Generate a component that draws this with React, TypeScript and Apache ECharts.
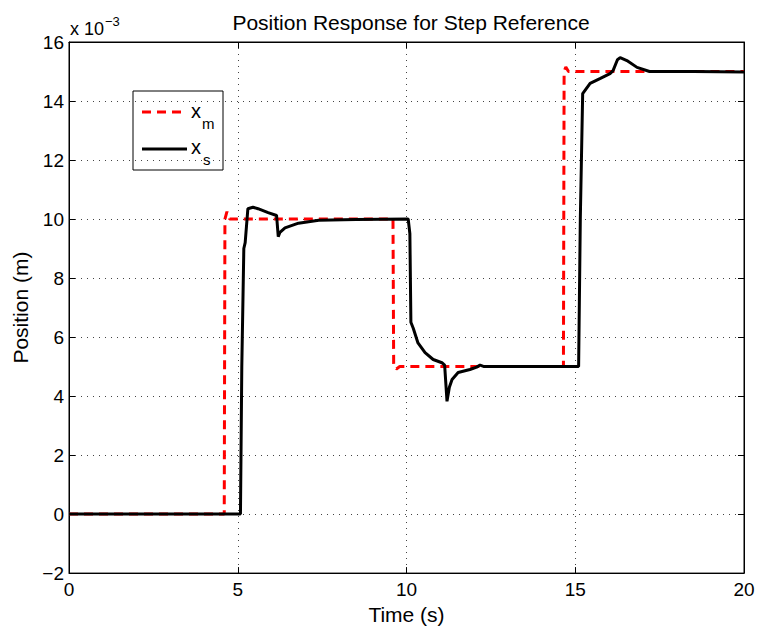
import React, { useEffect, useRef } from "react";
import * as echarts from "echarts";

// values in units of 1e-3 m
const xmTime = [0, 4.6, 4.62, 4.68, 4.76, 9.6, 9.62, 9.7, 9.8, 14.65, 14.67, 14.72, 14.8, 20];
const xmPos = [0, 0, 10.0, 10.25, 10.0, 10.0, 5.0, 4.92, 5.0, 5.0, 15.0, 15.15, 15.0, 15.0];

const xsTime = [
  0, 5.08, 5.12, 5.18, 5.22, 5.3, 5.45, 5.6, 5.9, 6.15, 6.2, 6.25, 6.4, 6.8, 7.4, 8.5, 10.05,
  10.1, 10.13, 10.2, 10.34, 10.55, 10.79, 11.05, 11.13, 11.2, 11.27, 11.35, 11.53, 11.88, 12.08, 12.18, 12.3,
  15.1, 15.15, 15.22, 15.44, 15.73, 16.03, 16.12, 16.25, 16.33, 16.53, 16.83, 17.2, 18.5, 20,
];
const xsPos = [
  0, 0, 5.0, 9.0, 9.2, 10.35, 10.4, 10.35, 10.22, 10.12, 9.4, 9.55, 9.7, 9.86, 9.96, 9.98, 10.0,
  9.5, 6.5, 6.3, 5.8, 5.47, 5.24, 5.13, 5.05, 3.82, 4.3, 4.56, 4.8, 4.9, 4.98, 5.05, 5.0,
  5.0, 10.0, 14.25, 14.6, 14.76, 14.93, 15.03, 15.4, 15.47, 15.37, 15.14, 15.0, 15.0, 14.98,
];

const xTicks = [0, 5, 10, 15, 20];
const yTicks = [-2, 0, 2, 4, 6, 8, 10, 12, 14, 16];

const FONT = "Liberation Sans, Arial, Helvetica, sans-serif";

export default function App() {
  const ref = useRef<HTMLDivElement>(null);
  useEffect(() => {
    document.body.style.margin = "0";
    if (!ref.current) return;
    const chart = echarts.init(ref.current, undefined, { renderer: "svg" });
    const grid = { left: 69, right: 14, top: 42, bottom: 55 };
    const gridLine = { show: true, lineStyle: { color: "#444", width: 1, type: [1, 5] as any } };
    const boxAxisCommon = {
      axisLine: { show: true, onZero: false, lineStyle: { color: "#000", width: 1 } },
      axisTick: { show: true, inside: true, length: 6, lineStyle: { color: "#000" } },
      axisLabel: { show: false },
      splitLine: { show: false },
    };
    chart.setOption({
      animation: false,
      backgroundColor: "#fff",
      textStyle: { fontFamily: FONT },
      title: {
        text: "Position Response for Step Reference",
        left: 406,
        textAlign: "center",
        top: 7,
        textStyle: { fontFamily: FONT, fontSize: 21, fontWeight: "normal", color: "#000" },
      },
      grid: { ...grid, show: true, borderColor: "#000", borderWidth: 1, backgroundColor: "#fff" },
      xAxis: [
        {
          type: "value",
          min: xTicks[0],
          max: xTicks[xTicks.length - 1],
          interval: 5,
          name: "Time (s)",
          nameLocation: "middle",
          nameGap: 24,
          nameTextStyle: { fontFamily: FONT, fontSize: 21, color: "#000" },
          axisLine: { show: true, onZero: false, lineStyle: { color: "#000", width: 1 } },
          axisTick: { show: true, inside: true, length: 6, lineStyle: { color: "#000" } },
          axisLabel: { fontFamily: FONT, fontSize: 19, color: "#000", margin: 7 },
          splitLine: gridLine,
        },
        { type: "value", position: "top", min: 0, max: 20, interval: 5, ...boxAxisCommon },
      ],
      yAxis: [
        {
          type: "value",
          min: yTicks[0],
          max: yTicks[yTicks.length - 1],
          interval: 2,
          name: "Position (m)",
          nameLocation: "middle",
          nameGap: 37,
          nameTextStyle: { fontFamily: FONT, fontSize: 21, color: "#000" },
          axisLine: { show: true, onZero: false, lineStyle: { color: "#000", width: 1 } },
          axisTick: { show: true, inside: true, length: 6, lineStyle: { color: "#000" } },
          axisLabel: {
            fontFamily: FONT,
            fontSize: 19,
            color: "#000",
            margin: 5,
            formatter: (v: number) => (v < 0 ? "\u2212" + Math.abs(v) : String(v)),
          },
          splitLine: gridLine,
        },
        { type: "value", position: "right", min: -2, max: 16, interval: 2, ...boxAxisCommon },
      ],
      series: [
        {
          name: "x_m",
          type: "line",
          data: xmTime.map((t, i) => [t, xmPos[i]]),
          showSymbol: false,
          symbol: "none",
          lineStyle: { color: "#ff0000", width: 3, type: [9, 6] as any },
          z: 2,
        },
        {
          name: "x_s",
          type: "line",
          data: xsTime.map((t, i) => [t, xsPos[i]]),
          showSymbol: false,
          symbol: "none",
          lineStyle: { color: "#000", width: 3 },
          z: 3,
        },
      ],
      graphic: [
        {
          type: "text",
          left: 70,
          top: 15,
          style: {
            text: "{a|x 10}{b|\u22123}",
            rich: {
              a: { fontFamily: FONT, fontSize: 18, fill: "#000", verticalAlign: "bottom" },
              b: { fontFamily: FONT, fontSize: 13, fill: "#000", padding: [0, 0, 10, 1], verticalAlign: "top" },
            },
          },
        },
        {
          type: "group",
          z: 100,
          children: [
            {
              type: "rect",
              shape: { x: 133, y: 91, width: 90, height: 79 },
              style: { fill: "#fff", stroke: "#000", lineWidth: 1 },
            },
            {
              type: "line",
              shape: { x1: 142, y1: 112, x2: 187, y2: 112 },
              style: { stroke: "#ff0000", lineWidth: 3, lineDash: [9, 6] },
            },
            {
              type: "text",
              x: 191,
              y: 111,
              style: { text: "x", fontFamily: FONT, fontSize: 20, fill: "#000", verticalAlign: "middle" },
            },
            {
              type: "text",
              x: 202,
              y: 123,
              style: { text: "m", fontFamily: FONT, fontSize: 15, fill: "#000", verticalAlign: "middle" },
            },
            {
              type: "line",
              shape: { x1: 142, y1: 149, x2: 187, y2: 149 },
              style: { stroke: "#000", lineWidth: 3 },
            },
            {
              type: "text",
              x: 191,
              y: 147,
              style: { text: "x", fontFamily: FONT, fontSize: 20, fill: "#000", verticalAlign: "middle" },
            },
            {
              type: "text",
              x: 203,
              y: 159,
              style: { text: "s", fontFamily: FONT, fontSize: 15, fill: "#000", verticalAlign: "middle" },
            },
          ],
        },
      ],
    });
    return () => chart.dispose();
  }, []);
  return <div ref={ref} style={{ width: 758, height: 630 }} />;
}
